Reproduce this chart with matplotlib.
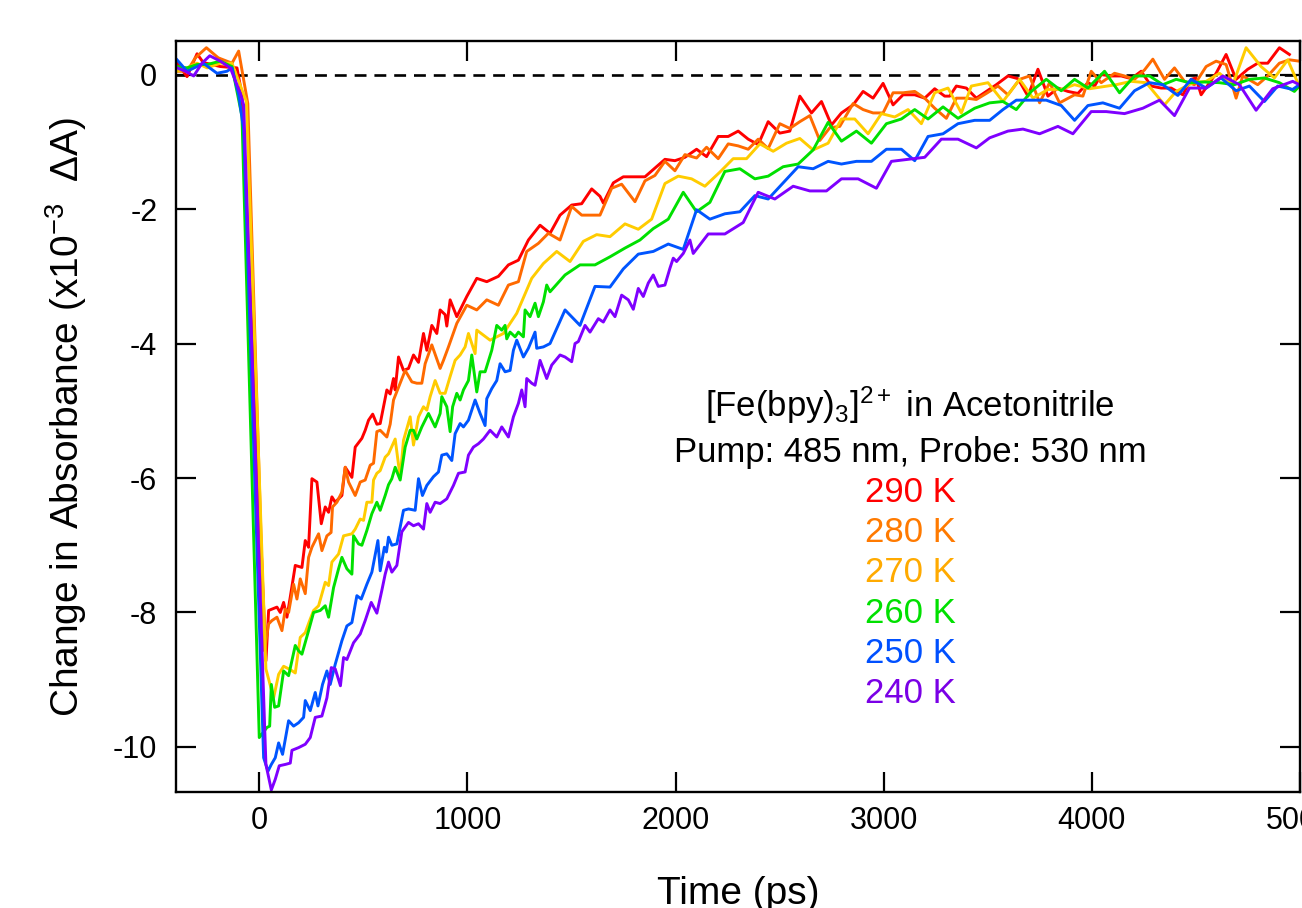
import matplotlib
matplotlib.use('Agg')
import matplotlib.pyplot as plt

plt.rcParams['font.family'] = ['Liberation Sans', 'DejaVu Sans']
plt.rcParams['mathtext.fontset'] = 'custom'
plt.rcParams['mathtext.rm'] = 'Liberation Sans'
plt.rcParams['mathtext.it'] = 'Liberation Sans:italic'
plt.rcParams['mathtext.bf'] = 'Liberation Sans:bold'
plt.rcParams['mathtext.default'] = 'regular'
plt.rcParams['axes.unicode_minus'] = False

# ---------------- data (time in ps, dA in 1e-3) ----------------
t_290 = [-395, -347, -299, -269, -187, -107, -83, 32, 45, 61, 85, 101, 117, 133, 149, 173, 205, 221, 237,
         253, 277, 298, 317, 333, 349, 365, 397, 413, 445, 461, 493, 509, 525, 545, 565, 581, 597, 613, 629,
         645, 653, 669, 693, 717, 741, 765, 789, 805, 829, 853, 869, 893, 901, 917, 949, 997, 1045, 1093,
         1149, 1197, 1245, 1293, 1349, 1397, 1445, 1501, 1549, 1597, 1637, 1653, 1701, 1749, 1797, 1853,
         1901, 1949, 1997, 2045, 2101, 2149, 2205, 2253, 2301, 2349, 2397, 2445, 2501, 2549, 2597, 2653,
         2701, 2749, 2797, 2853, 2901, 2949, 2997, 3045, 3093, 3149, 3197, 3245, 3293, 3317, 3349, 3397,
         3445, 3493, 3541, 3597, 3645, 3693, 3741, 3789, 3837, 3885, 3933, 3981, 4013, 4045, 4093, 4141,
         4189, 4237, 4285, 4333, 4381, 4437, 4477, 4500, 4525, 4597, 4645, 4693, 4749, 4797, 4845, 4901, 4949]
a_290 = [0.17, -0.03, 0.31, 0.18, 0.12, 0.10, -0.30, -8.72, -7.97, -7.95, -7.92, -8.00, -7.85, -8.07, -7.77,
         -7.30, -7.33, -6.93, -7.03, -6.01, -6.06, -6.68, -6.43, -6.51, -6.28, -6.36, -6.26, -5.84, -5.99,
         -5.54, -5.41, -5.29, -5.14, -5.05, -5.20, -5.19, -4.94, -4.69, -4.75, -4.52, -4.69, -4.20, -4.40,
         -4.37, -4.17, -4.28, -3.85, -4.10, -3.73, -3.85, -3.50, -3.57, -3.74, -3.35, -3.60, -3.30, -3.03,
         -3.08, -3.00, -2.83, -2.76, -2.46, -2.24, -2.36, -2.09, -1.94, -1.92, -1.70, -1.81, -1.91, -1.61,
         -1.52, -1.52, -1.52, -1.39, -1.26, -1.28, -1.23, -1.11, -1.22, -0.92, -0.92, -0.84, -0.96, -1.04,
         -0.70, -0.87, -0.84, -0.32, -0.57, -0.40, -0.75, -0.57, -0.45, -0.25, -0.35, -0.13, -0.45, -0.30,
         -0.30, -0.35, -0.21, -0.32, -0.32, -0.17, -0.20, -0.35, -0.25, -0.15, -0.02, -0.06, -0.32, 0.08,
         -0.32, -0.20, -0.25, -0.28, -0.12, -0.17, 0.00, -0.02, -0.02, -0.06, 0.05, -0.17, -0.20, -0.20,
         -0.30, -0.07, -0.05, -0.30, 0.02, 0.30, -0.07, 0.08, 0.17, 0.17, 0.40, 0.30]

t_280 = [-395, -347, -307, -254, -197, -131, -99, -55, 25, 45, 61, 85, 109, 125, 141, 165, 181, 197, 221,
         237, 253, 285, 301, 325, 345, 352, 373, 397, 413, 429, 461, 485, 509, 533, 549, 565, 581, 613, 629,
         645, 677, 701, 733, 757, 781, 797, 829, 869, 885, 909, 949, 997, 1045, 1093, 1149, 1197, 1245, 1285,
         1341, 1389, 1445, 1501, 1549, 1597, 1637, 1693, 1741, 1805, 1853, 1901, 1949, 1997, 2045, 2101,
         2149, 2205, 2253, 2301, 2349, 2397, 2445, 2501, 2549, 2597, 2645, 2693, 2741, 2789, 2853, 2901,
         2949, 2997, 3045, 3093, 3149, 3197, 3245, 3301, 3349, 3397, 3445, 3493, 3549, 3597, 3653, 3701,
         3749, 3797, 3845, 3917, 3957, 3997, 4045, 4109, 4157, 4205, 4253, 4293, 4349, 4397, 4445, 4493,
         4549, 4597, 4645, 4693, 4725, 4797, 4845, 4901, 4949, 4997]
a_280 = [0.05, 0.05, 0.25, 0.40, 0.25, 0.17, 0.35, -0.43, -8.57, -8.17, -8.12, -8.07, -8.27, -7.95, -8.00,
         -7.58, -7.80, -7.50, -7.72, -7.18, -7.03, -6.83, -7.08, -6.86, -6.81, -6.43, -6.36, -6.21, -5.84,
         -6.06, -6.26, -6.06, -6.03, -5.81, -5.78, -5.31, -5.29, -5.39, -5.20, -4.84, -4.59, -4.40, -4.57,
         -4.59, -4.59, -4.30, -4.02, -4.37, -4.25, -4.05, -3.70, -3.43, -3.50, -3.35, -3.43, -3.13, -3.08,
         -2.63, -2.51, -2.36, -2.46, -1.96, -2.09, -2.09, -2.09, -1.69, -1.63, -1.89, -1.58, -1.50, -1.29,
         -1.43, -1.19, -1.24, -1.08, -1.25, -1.03, -1.06, -1.11, -0.96, -1.10, -0.73, -0.80, -0.70, -0.61,
         -0.98, -0.79, -0.77, -0.43, -0.52, -0.57, -0.57, -0.27, -0.27, -0.25, -0.35, -0.50, -0.65, -0.35,
         -0.35, -0.37, -0.28, -0.17, -0.30, -0.07, -0.02, -0.42, -0.12, -0.42, -0.30, -0.32, 0.05, -0.12,
         0.02, -0.02, -0.07, 0.07, 0.23, -0.07, 0.10, -0.10, -0.15, 0.12, 0.20, 0.15, -0.35, -0.02, -0.15,
         -0.02, 0.17, 0.22, 0.20]

t_270 = [-395, -347, -299, -250, -187, -131, -107, -62, 32, 69, 93, 117, 149, 173, 197, 221, 241, 261, 285,
         317, 333, 349, 381, 405, 445, 461, 485, 501, 517, 541, 549, 565, 581, 605, 621, 653, 677, 693, 725,
         741, 765, 789, 805, 821, 845, 869, 893, 917, 941, 965, 989, 1005, 1037, 1045, 1109, 1173, 1237,
         1309, 1365, 1429, 1493, 1557, 1621, 1685, 1757, 1821, 1885, 1949, 2013, 2077, 2141, 2213, 2277,
         2341, 2405, 2469, 2533, 2597, 2661, 2733, 2797, 2861, 2925, 2989, 3053, 3117, 3181, 3245, 3309,
         3373, 3421, 3501, 3573, 3653, 3717, 3789, 3853, 3917, 3989, 4053, 4117, 4189, 4261, 4349, 4405,
         4485, 4549, 4613, 4677, 4741, 4813, 4877, 4941, 4989]
a_270 = [0.05, 0.10, 0.17, 0.10, 0.17, 0.17, -0.03, -0.40, -8.84, -9.27, -8.92, -8.80, -8.85, -8.90, -8.37,
         -8.30, -8.13, -7.97, -7.90, -7.55, -7.60, -7.25, -7.13, -6.86, -6.83, -6.76, -6.61, -6.63, -6.36,
         -6.36, -6.03, -5.93, -5.89, -5.69, -5.64, -5.42, -5.99, -5.44, -5.09, -5.51, -5.09, -4.94, -4.99,
         -4.79, -4.55, -4.74, -4.74, -4.49, -4.25, -4.17, -4.05, -3.85, -4.15, -3.80, -3.95, -3.85, -3.55,
         -3.03, -2.81, -2.63, -2.78, -2.48, -2.38, -2.41, -2.22, -2.30, -2.15, -1.62, -1.51, -1.55, -1.66,
         -1.45, -1.25, -1.25, -1.03, -1.14, -1.02, -0.95, -1.12, -1.02, -0.66, -0.66, -0.88, -0.58, -0.63,
         -0.52, -0.73, -0.27, -0.20, -0.57, -0.17, -0.12, -0.40, -0.07, -0.35, -0.22, -0.22, -0.15, -0.21,
         -0.18, -0.15, -0.10, -0.12, -0.45, -0.25, -0.12, -0.10, 0.02, -0.15, 0.40, 0.12, -0.05, 0.22, -0.12]

t_260 = [-395, -347, -299, -250, -187, -131, -83, 0, 37, 50, 58, 74, 93, 117, 141, 173, 189, 205, 237, 261,
         293, 317, 333, 357, 381, 397, 421, 445, 453, 477, 493, 517, 541, 565, 581, 605, 621, 637, 653, 677,
         701, 725, 741, 757, 781, 813, 845, 869, 877, 901, 917, 929, 949, 965, 981, 1005, 1021, 1045, 1061,
         1085, 1117, 1141, 1165, 1181, 1189, 1205, 1229, 1245, 1269, 1277, 1301, 1325, 1341, 1365, 1381,
         1397, 1469, 1541, 1613, 1685, 1757, 1829, 1893, 1965, 2037, 2101, 2165, 2237, 2309, 2381, 2445,
         2517, 2589, 2661, 2733, 2797, 2869, 2941, 3013, 3085, 3149, 3213, 3285, 3357, 3437, 3509, 3573,
         3637, 3709, 3781, 3853, 3917, 3981, 4061, 4133, 4205, 4277, 4341, 4405, 4469, 4541, 4613, 4685,
         4757, 4829, 4901, 4973, 4997]
a_260 = [0.12, 0.10, 0.15, 0.15, 0.20, 0.12, -0.62, -9.86, -9.71, -9.69, -9.07, -9.41, -9.39, -8.87, -8.94,
         -8.49, -8.57, -8.62, -8.27, -8.00, -7.97, -7.90, -8.07, -7.63, -7.35, -7.18, -7.35, -7.43, -6.86,
         -6.98, -7.00, -6.78, -6.53, -6.36, -6.48, -6.26, -6.10, -6.01, -5.84, -6.03, -5.54, -5.29, -5.29,
         -5.42, -5.24, -5.04, -5.24, -5.04, -4.79, -4.94, -5.31, -4.94, -4.74, -4.84, -4.69, -4.55, -4.17,
         -4.72, -4.42, -4.42, -4.10, -3.73, -3.80, -3.73, -3.93, -3.83, -3.90, -3.83, -3.90, -3.50, -3.60,
         -3.40, -3.60, -3.38, -3.13, -3.23, -2.98, -2.83, -2.83, -2.71, -2.58, -2.46, -2.29, -2.15, -1.75,
         -2.04, -1.90, -1.44, -1.40, -1.55, -1.51, -1.37, -1.33, -1.12, -0.71, -0.99, -0.84, -1.02, -0.73,
         -0.66, -0.52, -0.66, -0.48, -0.65, -0.50, -0.42, -0.40, -0.52, -0.25, -0.07, -0.24, -0.07, -0.20,
         0.05, -0.27, -0.02, -0.02, -0.15, -0.07, -0.12, -0.11, -0.12, -0.15, -0.07, -0.05, -0.12, -0.25, -0.17]

t_250 = [-395, -347, -299, -269, -203, -155, -131, -99, -75, 21, 42, 58, 77, 93, 112, 141, 165, 189, 213,
         221, 245, 269, 282, 304, 325, 341, 365, 397, 421, 445, 469, 490, 517, 541, 570, 581, 601, 611, 621,
         637, 661, 693, 717, 749, 765, 784, 805, 837, 861, 877, 901, 925, 941, 965, 981, 1005, 1037, 1061,
         1085, 1093, 1117, 1141, 1157, 1181, 1205, 1221, 1237, 1269, 1293, 1325, 1333, 1365, 1397, 1469,
         1541, 1613, 1685, 1749, 1821, 1893, 1965, 2037, 2101, 2165, 2237, 2309, 2381, 2445, 2517, 2589,
         2661, 2733, 2797, 2869, 2941, 3013, 3085, 3149, 3213, 3285, 3357, 3437, 3509, 3573, 3637, 3709,
         3781, 3853, 3917, 3981, 4053, 4133, 4205, 4277, 4341, 4413, 4477, 4549, 4621, 4693, 4757, 4829,
         4893, 4965, 4997]
a_250 = [0.22, 0.05, 0.12, 0.17, 0.02, 0.05, 0.10, -0.30, -0.82, -10.16, -10.36, -10.26, -10.16, -9.94,
         -10.11, -9.61, -9.69, -9.64, -9.56, -9.31, -9.46, -9.19, -9.39, -9.07, -8.87, -9.07, -8.77, -8.42,
         -8.20, -8.15, -7.75, -7.80, -7.58, -7.40, -6.93, -7.38, -7.03, -7.10, -6.88, -7.00, -6.98, -6.48,
         -6.46, -6.48, -6.01, -6.26, -6.11, -5.98, -5.91, -5.66, -5.64, -5.74, -5.34, -5.19, -5.24, -5.14,
         -4.84, -5.04, -5.22, -4.82, -4.67, -4.55, -4.30, -4.42, -4.40, -4.10, -3.95, -4.20, -4.07, -3.83,
         -4.07, -4.05, -4.00, -3.50, -3.73, -3.15, -3.16, -2.89, -2.67, -2.63, -2.52, -2.60, -2.01, -2.15,
         -2.07, -2.04, -1.80, -1.85, -1.61, -1.37, -1.40, -1.29, -1.33, -1.29, -1.29, -1.11, -1.11, -1.28,
         -0.92, -0.88, -0.73, -0.68, -0.68, -0.52, -0.38, -0.38, -0.38, -0.46, -0.68, -0.46, -0.42, -0.50,
         -0.24, -0.12, -0.15, -0.31, -0.07, -0.20, -0.05, -0.24, -0.17, -0.40, -0.17, -0.22, -0.15]

t_240 = [-395, -355, -315, -275, -238, -187, -139, -91, -75, 32, 58, 77, 96, 125, 149, 157, 189, 221, 245,
         269, 301, 325, 346, 365, 390, 405, 421, 453, 485, 509, 538, 565, 589, 605, 621, 637, 661, 685, 717,
         741, 765, 789, 805, 821, 845, 869, 901, 933, 957, 989, 1005, 1029, 1053, 1077, 1109, 1141, 1165,
         1197, 1221, 1245, 1261, 1277, 1285, 1309, 1325, 1349, 1381, 1405, 1445, 1469, 1501, 1517, 1533,
         1565, 1589, 1629, 1653, 1685, 1709, 1741, 1773, 1797, 1821, 1845, 1869, 1893, 1917, 1949, 1973,
         1989, 2005, 2037, 2069, 2085, 2157, 2237, 2325, 2397, 2477, 2565, 2645, 2725, 2797, 2877, 2965,
         3037, 3117, 3197, 3277, 3357, 3445, 3509, 3597, 3669, 3749, 3837, 3909, 3997, 4069, 4157, 4245,
         4325, 4397, 4469, 4549, 4629, 4709, 4789, 4869, 4965, 4997]
a_240 = [0.10, 0.05, -0.02, 0.17, 0.28, 0.20, 0.10, -0.28, -0.45, -10.26, -10.64, -10.48, -10.28, -10.26,
         -10.24, -10.05, -10.01, -9.96, -9.86, -9.56, -9.54, -9.27, -8.82, -8.84, -9.09, -8.67, -8.70, -8.45,
         -8.32, -8.12, -7.85, -8.01, -7.67, -7.43, -7.25, -7.40, -7.30, -6.80, -6.66, -6.71, -6.68, -6.76,
         -6.38, -6.51, -6.36, -6.38, -6.31, -6.11, -5.93, -5.91, -5.66, -5.54, -5.49, -5.42, -5.29, -5.39,
         -5.24, -5.39, -5.09, -4.89, -4.69, -4.94, -4.52, -4.59, -4.62, -4.25, -4.52, -4.32, -4.17, -4.20,
         -4.27, -4.00, -3.97, -3.73, -3.83, -3.63, -3.68, -3.50, -3.60, -3.28, -3.35, -3.49, -3.18, -3.30,
         -3.10, -2.98, -3.15, -3.13, -2.88, -2.73, -2.78, -2.66, -2.46, -2.66, -2.37, -2.37, -2.20, -1.75,
         -1.85, -1.66, -1.73, -1.73, -1.55, -1.55, -1.69, -1.29, -1.26, -1.23, -0.96, -0.96, -1.09, -0.94,
         -0.84, -0.81, -0.88, -0.77, -0.88, -0.55, -0.55, -0.58, -0.50, -0.38, -0.61, -0.20, -0.20, -0.02,
         -0.15, -0.53, -0.21, -0.10, -0.15]

temps = ['290 K', '280 K', '270 K', '260 K', '250 K', '240 K']
times = [t_290, t_280, t_270, t_260, t_250, t_240]
values = [a_290, a_280, a_270, a_260, a_250, a_240]
line_colors = ['#FF0000', '#FF6A00', '#FFCC00', '#00E000', '#0055FF', '#7F00FF']
text_colors = ['#FF0000', '#FF7A00', '#FFAA00', '#00E000', '#0050FF', '#7A00E6']

x_ticks = [0, 1000, 2000, 3000, 4000, 5000]
y_ticks = [0, -2, -4, -6, -8, -10]

title1 = r'[Fe(bpy)$_3$]$^{2+}$ in Acetonitrile'
title2 = 'Pump: 485 nm, Probe: 530 nm'

# ---------------- figure ----------------
W, H = 1302, 908
fig = plt.figure(figsize=(W / 100, H / 100), dpi=100)
ax = fig.add_axes([176 / W, (H - 792) / H, 1124 / W, 751 / H])

ax.axhline(0, color='black', lw=1.9, ls=(0, (4.5, 3.0)), zorder=1)
for t, a, c in zip(times, values, line_colors):
    ax.plot(t, a, color=c, lw=2.1, zorder=2)

ax.set_xlim(-400, 5000)
ax.set_ylim(-10.67, 0.5)
ax.set_xticks(x_ticks)
ax.set_yticks(y_ticks)
ax.tick_params(direction='in', length=14.5, width=1.6, top=True, right=True,
               labelsize=22, colors='black')
ax.tick_params(axis='x', pad=10)
ax.tick_params(axis='y', pad=13.5)
for s in ax.spines.values():
    s.set_linewidth(1.7)

ax.set_ylabel(r'Change in Absorbance (x10$^{-3}$  ΔA)', fontsize=28)
ax.yaxis.set_label_coords(-0.077, 0.5)
ax.set_xlabel('Time (ps)', fontsize=28, va='top')
ax.xaxis.set_label_coords(0.5, -0.112)

xc = (910 - 176) / 1124
def yfrac(py):
    return (792 - py) / 751

ax.text(xc, yfrac(417), title1, transform=ax.transAxes, ha='center', va='baseline', fontsize=25)
ax.text(xc, yfrac(462), title2, transform=ax.transAxes, ha='center', va='baseline', fontsize=25)
for i, (lab, c) in enumerate(zip(temps, text_colors)):
    ax.text(xc, yfrac(502 + 40.2 * i), lab, transform=ax.transAxes, ha='center', va='baseline',
            fontsize=25, color=c)

fig.savefig('out.png', dpi=100)
